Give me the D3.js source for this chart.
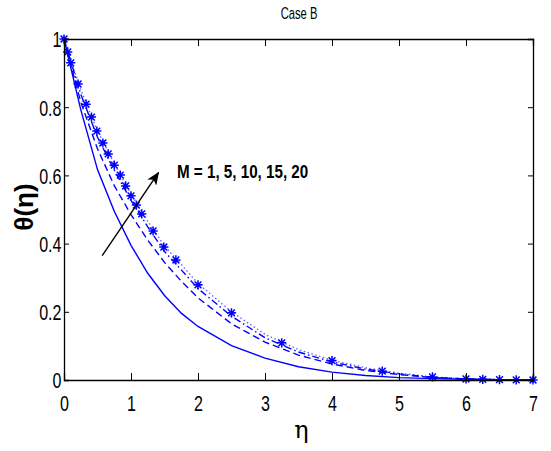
<!DOCTYPE html>
<html>
<head>
<meta charset="utf-8">
<script src="https://cdn.jsdelivr.net/npm/d3@7/dist/d3.min.js"></script>
<style>
  html, body { margin: 0; padding: 0; background: #fff; }
  svg { display: block; }
</style>
</head>
<body>
<svg id="chart" width="551" height="451"></svg>
<script>
// Temperature profiles theta(eta) for several magnetic parameters M (Case B)
const title = "Case B";
const xTicks = [0, 1, 2, 3, 4, 5, 6, 7];
const yTicks = [0, 0.2, 0.4, 0.6, 0.8, 1];
const yTickLabels = ["0", "0.2", "0.4", "0.6", "0.8", "1"];
const annotation = "M = 1, 5, 10, 15, 20";

// Common grid for the line series
const eta = [0, 0.25, 0.5, 0.75, 1, 1.25, 1.5, 1.75, 2, 2.5, 3, 3.5, 4, 4.5, 5, 5.5, 6, 6.5, 7];
// M = 1 (solid)
const thetaM1  = [1, 0.793, 0.617, 0.495, 0.395, 0.313, 0.248, 0.196, 0.157, 0.101, 0.064, 0.039, 0.023, 0.013, 0.007, 0.004, 0.002, 0.001, 0];
// M = 5 (dashed)
const thetaM5  = [1, 0.815, 0.678, 0.570, 0.485, 0.410, 0.345, 0.290, 0.241, 0.165, 0.111, 0.073, 0.047, 0.028, 0.016, 0.007, 0.003, 0.001, 0];
// M = 10 (dash-dot)
const thetaM10 = [1, 0.838, 0.712, 0.615, 0.527, 0.449, 0.377, 0.323, 0.268, 0.187, 0.124, 0.082, 0.053, 0.032, 0.018, 0.008, 0.003, 0.001, 0];
// M = 20 (dotted)
const thetaM20 = [1, 0.852, 0.730, 0.635, 0.545, 0.466, 0.393, 0.339, 0.283, 0.200, 0.134, 0.089, 0.058, 0.036, 0.020, 0.009, 0.003, 0.001, 0];

// M = 15 is plotted as star markers on the solver mesh
const etaM15   = [0, 0.055, 0.1, 0.21, 0.33, 0.41, 0.49, 0.58, 0.66, 0.75, 0.84, 0.92, 1.0, 1.08, 1.16, 1.33, 1.49, 1.67, 2.0, 2.5, 3.25, 4.0, 4.75, 5.5, 6.0, 6.25, 6.5, 6.75, 7.0];
const thetaM15 = [1, 0.962, 0.930, 0.868, 0.809, 0.771, 0.730, 0.695, 0.663, 0.630, 0.601, 0.569, 0.540, 0.513, 0.487, 0.437, 0.390, 0.352, 0.279, 0.197, 0.109, 0.057, 0.026, 0.009, 0.003, 0.002, 0.001, 0.0005, 0];

// Arrow showing increasing M, in data coordinates
const arrowFrom = [0.57, 0.365];
const arrowTo   = [1.41, 0.608];

const blue = "#0000ff";
const font = "'Liberation Sans', Arial, sans-serif";
const squeeze = 0.73;   // narrow glyph look

const svg = d3.select("#chart");
const padL = 64, padR = 533, padT = 39, padB = 380;

const x = d3.scaleLinear().domain([0, 7]).range([padL, padR]);
const y = d3.scaleLinear().domain([0, 1]).range([padB, padT]);

// Series lines
const line = d3.line().x(d => x(d[0])).y(d => y(d[1]));
const lineSeries = [
  { v: thetaM1,  dash: null },
  { v: thetaM5,  dash: "7,4" },
  { v: thetaM10, dash: "7,3,1.5,3" },
  { v: thetaM20, dash: "1.5,2.5", opacity: 0.6 }
];
const plot = svg.append("g");
lineSeries.forEach(s => {
  plot.append("path")
    .datum(eta.map((e, i) => [e, s.v[i]]))
    .attr("d", line)
    .attr("fill", "none")
    .attr("stroke", blue)
    .attr("stroke-width", 1.4)
    .attr("stroke-opacity", s.opacity || 1)
    .attr("stroke-dasharray", s.dash);
});

// Star markers ('*' = plus + cross)
const r = 4.6, rd = 3.4;
const starPath = `M${-r},0L${r},0M0,${-r}L0,${r}M${-rd},${-rd}L${rd},${rd}M${-rd},${rd}L${rd},${-rd}`;
plot.selectAll(".star")
  .data(etaM15.map((e, i) => [e, thetaM15[i]]))
  .join("path")
  .attr("class", "star")
  .attr("transform", d => `translate(${x(d[0])},${y(d[1])})`)
  .attr("d", starPath)
  .attr("fill", "none")
  .attr("stroke", blue)
  .attr("stroke-width", 1.5);

// Axes with inward ticks on all four sides
const axes = svg.append("g");
const gB = axes.append("g").attr("transform", `translate(0,${padB})`)
  .call(d3.axisBottom(x).tickValues(xTicks).tickSize(-7).tickFormat(d3.format("d")));
const gT = axes.append("g").attr("transform", `translate(0,${padT})`)
  .call(d3.axisTop(x).tickValues(xTicks).tickSize(-7).tickFormat(""));
const gL = axes.append("g").attr("transform", `translate(${padL},0)`)
  .call(d3.axisLeft(y).tickValues(yTicks).tickSize(-5).tickFormat((d, i) => yTickLabels[i]));
const gR = axes.append("g").attr("transform", `translate(${padR},0)`)
  .call(d3.axisRight(y).tickValues(yTicks).tickSize(-5).tickFormat(""));

[gB, gT, gL, gR].forEach(g => {
  g.select(".domain").attr("stroke", "#000").attr("stroke-width", 1.3);
  g.selectAll(".tick line").attr("stroke", "#000").attr("stroke-width", 1);
});

gB.selectAll(".tick text")
  .attr("y", 31).attr("dy", 0)
  .attr("transform", `scale(${squeeze},1)`)
  .attr("font-family", font).attr("font-size", 22).attr("fill", "#000");
gL.selectAll(".tick text")
  .attr("x", -2.5 / squeeze).attr("dy", "0.36em")
  .attr("transform", `scale(${squeeze},1)`)
  .attr("font-family", font).attr("font-size", 22).attr("fill", "#000");

// Title
svg.append("text")
  .attr("transform", `translate(${(padL + padR) / 2 + 0.5},19) scale(0.7,1)`)
  .attr("text-anchor", "middle")
  .attr("font-family", font).attr("font-size", 16)
  .text(title);

// Axis titles
svg.append("text")
  .attr("transform", `translate(${(padL + padR) / 2 + 3},438)`)
  .attr("text-anchor", "middle")
  .attr("font-family", "'DejaVu Serif', serif").attr("font-size", 24)
  .text("η");
svg.append("text")
  .attr("transform", `translate(33,207) rotate(-90)`)
  .attr("text-anchor", "middle")
  .attr("font-family", font).attr("font-weight", "bold").attr("font-size", 26)
  .text("θ(η)");

// Annotation with arrow
svg.append("defs").append("marker")
  .attr("id", "head").attr("viewBox", "0 0 12 10")
  .attr("refX", 11).attr("refY", 5)
  .attr("markerWidth", 13).attr("markerHeight", 11)
  .attr("markerUnits", "userSpaceOnUse")
  .attr("orient", "auto")
  .append("path").attr("d", "M0,0L12,5L0,10L3,5Z").attr("fill", "#000");
svg.append("line")
  .attr("x1", x(arrowFrom[0])).attr("y1", y(arrowFrom[1]))
  .attr("x2", x(arrowTo[0])).attr("y2", y(arrowTo[1]))
  .attr("stroke", "#000").attr("stroke-width", 1.4)
  .attr("marker-end", "url(#head)");
svg.append("text")
  .attr("transform", `translate(177,178) scale(0.8,1)`)
  .attr("font-family", font).attr("font-weight", "bold").attr("font-size", 19)
  .text(annotation);
</script>
</body>
</html>
